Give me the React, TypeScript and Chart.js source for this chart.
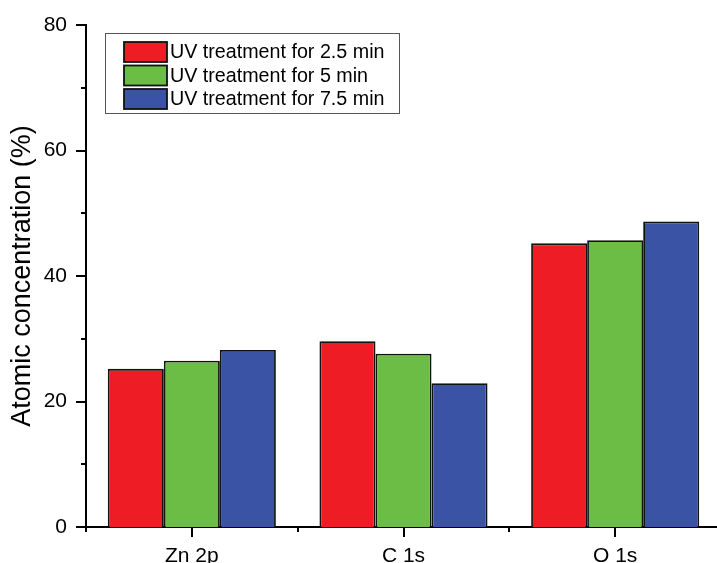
import React, { useEffect, useRef } from "react";
import { Chart, registerables } from "chart.js";

Chart.register(...registerables);

const categories = ["Zn 2p", "C 1s", "O 1s"];
const seriesLabels = [
  "UV treatment for 2.5 min",
  "UV treatment for 5 min",
  "UV treatment for 7.5 min",
];
const uv25 = [25.2, 29.6, 45.2];
const uv50 = [26.5, 27.6, 45.7];
const uv75 = [28.2, 22.9, 48.7];
const seriesColors = ["#ee1c25", "#6bbd45", "#3a53a4"];
const yMin = 0;
const yMax = 80;
const yStep = 10;
const yLabelEvery = 20;

const FONT = "'Liberation Sans', Arial, sans-serif";

// Outward major/minor tick marks on both axes
const tickMarks = {
  id: "tickMarks",
  afterDraw(chart: any) {
    const { ctx, chartArea } = chart;
    const x = chart.scales.x;
    const y = chart.scales.y;
    ctx.save();
    ctx.strokeStyle = "#000";
    ctx.lineWidth = 2;
    ctx.beginPath();
    for (const t of y.ticks) {
      const py = Math.round(y.getPixelForValue(t.value));
      const len = t.value % yLabelEvery === 0 ? 10 : 5;
      ctx.moveTo(chartArea.left - len, py);
      ctx.lineTo(chartArea.left, py);
    }
    const n = categories.length;
    for (let i = 0; i < n; i++) {
      const px = Math.round(x.getPixelForValue(i));
      ctx.moveTo(px, chartArea.bottom);
      ctx.lineTo(px, chartArea.bottom + 10);
    }
    for (let i = 0; i <= n; i++) {
      const px = Math.round(x.getPixelForValue(i - 0.5));
      ctx.moveTo(px, chartArea.bottom);
      ctx.lineTo(px, chartArea.bottom + 5);
    }
    ctx.stroke();
    ctx.restore();
  },
};

// Boxed legend inside the plot area
const boxLegend = {
  id: "boxLegend",
  afterDraw(chart: any) {
    const { ctx } = chart;
    const left = 105;
    const top = 33;
    const w = 294;
    const h = 80;
    ctx.save();
    ctx.strokeStyle = "#555";
    ctx.lineWidth = 1;
    ctx.strokeRect(left + 0.5, top + 0.5, w, h);
    ctx.font = `19.7px ${FONT}`;
    ctx.textBaseline = "middle";
    ctx.fillStyle = "#000";
    chart.data.datasets.forEach((ds: any, i: number) => {
      const cy = 52 + i * 23.5;
      ctx.fillStyle = ds.backgroundColor;
      ctx.fillRect(124, cy - 10, 43, 20);
      ctx.strokeStyle = "#111";
      ctx.lineWidth = 1.8;
      ctx.strokeRect(124, cy - 10, 43, 20);
      ctx.fillStyle = "#000";
      ctx.fillText(ds.label, 170, cy + 1);
    });
    ctx.restore();
  },
};

export default function App() {
  const ref = useRef<HTMLCanvasElement | null>(null);

  useEffect(() => {
    if (!ref.current) return;
    const values = [uv25, uv50, uv75];
    const chart = new Chart(ref.current, {
      type: "bar",
      data: {
        labels: categories,
        datasets: values.map((v, i) => ({
          label: seriesLabels[i],
          data: v,
          backgroundColor: seriesColors[i],
          borderColor: "#111",
          borderWidth: 1.8,
          categoryPercentage: 0.794,
          barPercentage: 1,
        })),
      },
      options: {
        responsive: false,
        animation: false,
        devicePixelRatio: 1,
        layout: { padding: { top: 25, right: 19, left: 0, bottom: 0 } },
        plugins: {
          legend: { display: false },
          tooltip: { enabled: false },
        },
        scales: {
          x: {
            offset: true,
            grid: { display: false, drawTicks: false },
            border: { display: true, color: "#000", width: 2 },
            ticks: {
              color: "#000",
              font: { family: FONT, size: 21 },
              padding: 17,
              maxRotation: 0,
            },
            afterFit(scale: any) {
              scale.height = 36;
              scale.paddingLeft = 0;
              scale.paddingRight = 0;
            },
          },
          y: {
            min: yMin,
            max: yMax,
            grid: { display: false, drawTicks: false },
            border: { display: true, color: "#000", width: 2 },
            ticks: {
              stepSize: yStep,
              color: "#000",
              font: { family: FONT, size: 21 },
              padding: 19,
              callback: (v: any) => (Number(v) % yLabelEvery === 0 ? String(v) : ""),
            },
            title: {
              display: true,
              text: "Atomic concentration (%)",
              color: "#000",
              font: { family: FONT, size: 27 },
              padding: { top: 6, bottom: 0 },
            },
            afterFit(scale: any) {
              scale.width = 86;
              scale.paddingTop = 0;
              scale.paddingBottom = 0;
            },
          },
        },
      },
      plugins: [tickMarks, boxLegend],
    });
    return () => chart.destroy();
  }, []);

  return (
    <div
      style={{
        position: "fixed",
        left: 0,
        top: 0,
        width: 717,
        height: 563,
        overflow: "hidden",
        background: "#fff",
      }}
    >
      <canvas ref={ref} width={740} height={563} style={{ display: "block" }} />
    </div>
  );
}
